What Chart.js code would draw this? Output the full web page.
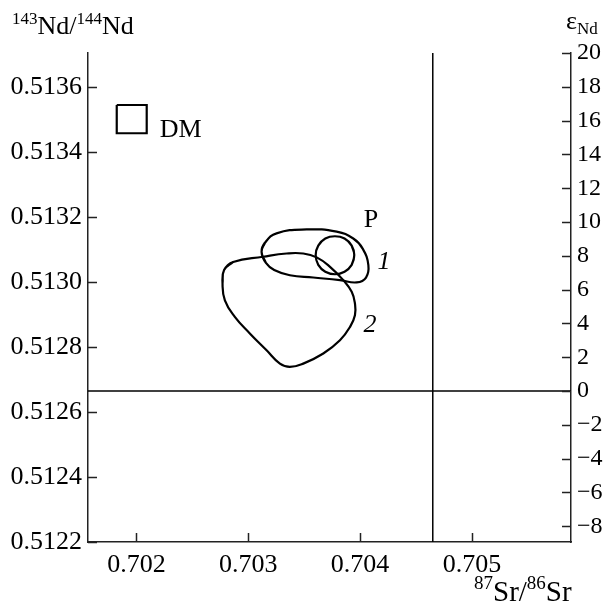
<!DOCTYPE html>
<html>
<head>
<meta charset="utf-8">
<script src="https://cdn.jsdelivr.net/npm/chart.js@4.4.0/dist/chart.umd.min.js"></script>
<style>
  html, body { margin: 0; padding: 0; background: #fff; }
  #wrap { width: 606px; height: 605px; position: relative; }
</style>
</head>
<body>
<div id="wrap"><canvas id="srNd"></canvas></div>
<script>
// axis ranges and ticks
const srMin = 0.701567, srMax = 0.705886;
const ndMin = 0.5122, ndMax = 0.513705;
const epsMin = -8.93, epsMax = 20;
const srTicks = [0.702, 0.703, 0.704, 0.705];
const ndTicks = [0.5122, 0.5124, 0.5126, 0.5128, 0.5130, 0.5132, 0.5134, 0.5136];
const epsTicks = [-8, -6, -4, -2, 0, 2, 4, 6, 8, 10, 12, 14, 16, 18, 20];

// bulk earth reference lines
const bulkSr = 0.70465;
const chondriteEps = 0;

// field 1 outline  [87Sr/86Sr, 143Nd/144Nd]
const field1 = [
    [0.703119, 0.513093], [0.703149, 0.513121], [0.703253, 0.513150], [0.703522, 0.513162],
    [0.703791, 0.513155], [0.703939, 0.513134], [0.704023, 0.513103], [0.704074, 0.513052],
    [0.704053, 0.513014], [0.703970, 0.512999], [0.703820, 0.513006], [0.703581, 0.513014],
    [0.703372, 0.513021], [0.703232, 0.513037], [0.703158, 0.513059]
];

// field 2 outline
const field2 = [
    [0.702784, 0.513037], [0.702865, 0.513062], [0.703133, 0.513078], [0.703343, 0.513088],
    [0.703492, 0.513088], [0.703612, 0.513076], [0.703731, 0.513047], [0.703850, 0.513006],
    [0.703925, 0.512970], [0.703954, 0.512934], [0.703954, 0.512898], [0.703910, 0.512862],
    [0.703820, 0.512821], [0.703671, 0.512780], [0.703492, 0.512749], [0.703372, 0.512739],
    [0.703283, 0.512749], [0.703164, 0.512790], [0.703014, 0.512842], [0.702880, 0.512893],
    [0.702791, 0.512944], [0.702770, 0.512996]
];

// field P outline
const fieldP = [
    [0.703948, 0.513083], [0.703925, 0.513112], [0.703861, 0.513134], [0.703775, 0.513141],
    [0.703689, 0.513134], [0.703626, 0.513112], [0.703603, 0.513083], [0.703626, 0.513053],
    [0.703689, 0.513032], [0.703775, 0.513024], [0.703861, 0.513032], [0.703925, 0.513053]
];

// DM box
const fieldDM = [
    [0.701824, 0.513545], [0.702092, 0.513545], [0.702092, 0.513458], [0.701824, 0.513458]
];

// text labels in data units
const fieldLabels = [
    { text: 'DM', x: 0.702209, y: 0.513468, style: '', align: 'left' },
    { text: 'P', x: 0.704098, y: 0.513191, style: '', align: 'center' },
    { text: '1', x: 0.704214, y: 0.513061, style: 'italic ', align: 'center' },
    { text: '2', x: 0.704089, y: 0.512867, style: 'italic ', align: 'center' }
];

const SERIF = '"Liberation Serif", "Times New Roman", serif';

// wrap a ring so the smoothed line closes without a kink
function closedRing(pts) {
    const n = pts.length;
    const ring = [pts[n - 1]].concat(pts, [pts[0], pts[1]]);
    return ring.map(p => ({ x: p[0], y: p[1] }));
}

function outline(pts, smooth) {
    return {
        data: smooth ? closedRing(pts) : pts.concat([pts[0]]).map(p => ({ x: p[0], y: p[1] })),
        showLine: true,
        borderColor: '#000',
        borderWidth: 2.2,
        pointRadius: 0,
        tension: smooth ? 0.45 : 0,
        fill: false
    };
}

// draws inward ticks, titles and labels
const decorPlugin = {
    id: 'decor',
    afterDraw(chart) {
        const ctx = chart.ctx;
        const xs = chart.scales.x, ys = chart.scales.y, es = chart.scales.y2;
        const area = chart.chartArea;
        ctx.save();
        ctx.strokeStyle = '#222';
        ctx.lineWidth = 1.5;
        ctx.beginPath();
        srTicks.forEach(v => {
            const px = Math.round(xs.getPixelForValue(v)) + 0.5;
            ctx.moveTo(px, area.bottom);
            ctx.lineTo(px, area.bottom - 9);
        });
        ndTicks.forEach(v => {
            const py = Math.round(ys.getPixelForValue(v)) + 0.5;
            ctx.moveTo(area.left, py);
            ctx.lineTo(area.left + 9, py);
        });
        epsTicks.forEach(v => {
            const py = Math.round(es.getPixelForValue(v)) + 0.5;
            ctx.moveTo(area.right, py);
            ctx.lineTo(area.right - 9, py);
        });
        ctx.stroke();

        // field labels
        ctx.fillStyle = '#000';
        ctx.textBaseline = 'middle';
        fieldLabels.forEach(l => {
            ctx.font = l.style + '26px ' + SERIF;
            ctx.textAlign = l.align;
            ctx.fillText(l.text, xs.getPixelForValue(l.x), ys.getPixelForValue(l.y));
        });

        // axis titles with super/subscripts
        ctx.textAlign = 'left';
        ctx.textBaseline = 'alphabetic';
        function runs(parts, x, y, big, small) {
            parts.forEach(p => {
                ctx.font = (p.small ? small : big) + 'px ' + SERIF;
                const dy = p.small === 'sup' ? -Math.round(big * 0.4) : (p.small === 'sub' ? 5 : 0);
                ctx.fillText(p.t, x, y + dy);
                x += ctx.measureText(p.t).width;
            });
            return x;
        }
        runs([{ t: '143', small: 'sup' }, { t: 'Nd/' }, { t: '144', small: 'sup' }, { t: 'Nd' }], 12, 34, 26, 17);
        runs([{ t: '\u03B5' }, { t: 'Nd', small: 'sub' }], 566, 29, 26, 17);
        runs([{ t: '87', small: 'sup' }, { t: 'Sr/' }, { t: '86', small: 'sup' }, { t: 'Sr' }], 474, 601, 29, 19);
        ctx.restore();
    }
};

function initializeChart() {
    const ctx = document.getElementById('srNd');
    const datasets = [
        outline(field1, true),
        outline(field2, true),
        outline(fieldP, true),
        outline(fieldDM, false),
        {
            data: [{ x: bulkSr, y: ndMin }, { x: bulkSr, y: ndMax }],
            showLine: true, borderColor: '#000', borderWidth: 1.5, pointRadius: 0
        },
        {
            data: [{ x: srMin, y: chondriteEps }, { x: srMax, y: chondriteEps }],
            yAxisID: 'y2',
            showLine: true, borderColor: '#000', borderWidth: 1.5, pointRadius: 0
        }
    ];

    new Chart(ctx, {
        type: 'scatter',
        data: { datasets: datasets },
        plugins: [decorPlugin],
        options: {
            responsive: true,
            maintainAspectRatio: false,
            animation: false,
            layout: { padding: { top: 53, left: 0, right: 0, bottom: 0 } },
            plugins: { legend: { display: false }, tooltip: { enabled: false } },
            scales: {
                x: {
                    type: 'linear',
                    min: srMin,
                    max: srMax,
                    afterBuildTicks: s => { s.ticks = srTicks.map(v => ({ value: v })); },
                    afterFit: s => { s.height = 63; },
                    ticks: {
                        color: '#000',
                        padding: 8,
                        maxRotation: 0,
                        font: { family: SERIF, size: 26 },
                        callback: v => v.toFixed(3)
                    },
                    grid: { display: false, drawTicks: false },
                    border: { display: true, color: '#222', width: 1.5 }
                },
                y: {
                    type: 'linear',
                    position: 'left',
                    min: ndMin,
                    max: ndMax,
                    afterBuildTicks: s => { s.ticks = ndTicks.map(v => ({ value: v })); },
                    afterFit: s => { s.width = 88; },
                    ticks: {
                        color: '#000',
                        padding: 6,
                        font: { family: SERIF, size: 26 },
                        callback: v => v.toFixed(4)
                    },
                    grid: { display: false, drawTicks: false },
                    border: { display: true, color: '#222', width: 1.5 }
                },
                y2: {
                    type: 'linear',
                    position: 'right',
                    min: epsMin,
                    max: epsMax,
                    afterBuildTicks: s => { s.ticks = epsTicks.map(v => ({ value: v })); },
                    afterFit: s => { s.width = 35; },
                    ticks: {
                        color: '#000',
                        padding: 6,
                        font: { family: SERIF, size: 24 },
                        callback: v => (v < 0 ? '\u2212' + Math.abs(v) : String(v))
                    },
                    grid: { display: false, drawTicks: false },
                    border: { display: true, color: '#222', width: 1.5 }
                }
            }
        }
    });
}

window.addEventListener('load', initializeChart);
</script>
</body>
</html>
